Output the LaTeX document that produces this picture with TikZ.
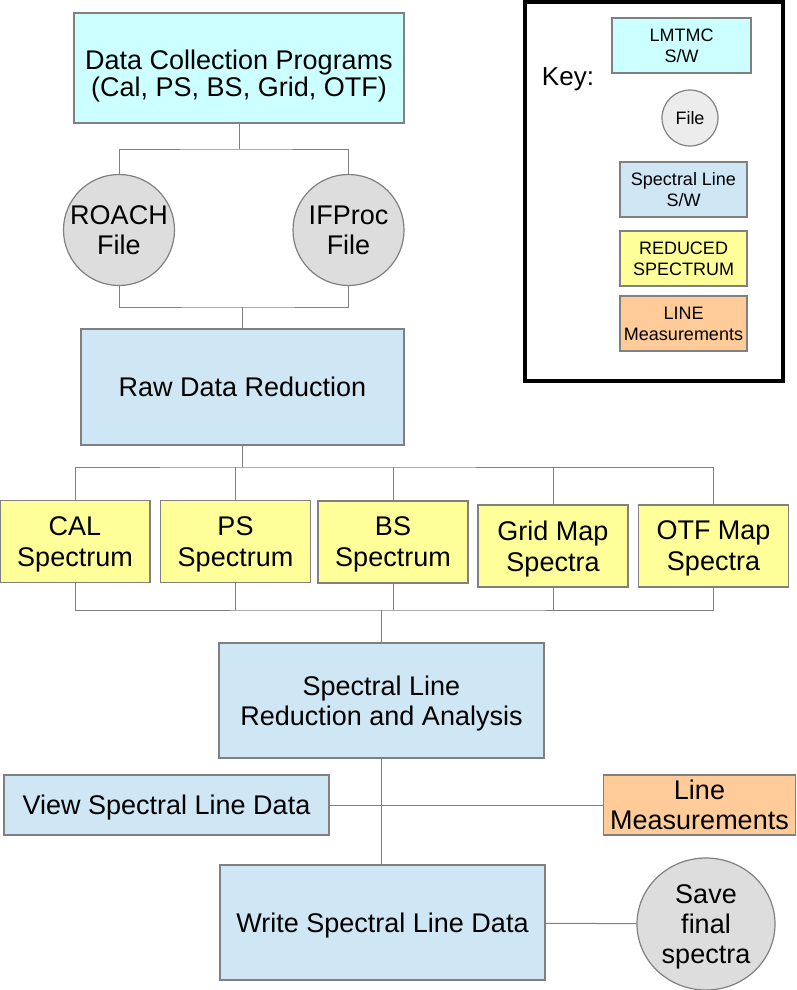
\documentclass[tikz,border=0pt]{standalone}
\usepackage{fontspec}
\setmainfont{Liberation Sans}
\usetikzlibrary{shapes.geometric}
\definecolor{swcyan}{HTML}{CCFFFF}
\definecolor{slblue}{HTML}{CFE7F5}
\definecolor{redyellow}{HTML}{FFFF99}
\definecolor{measorange}{HTML}{FFCC99}
\definecolor{filegray}{HTML}{DDDDDD}
\definecolor{edgegray}{HTML}{808080}

\begin{document}
\begin{tikzpicture}[x=1pt,y=-1pt,
  box/.style={draw=edgegray,line width=1.2pt,inner sep=0pt,align=center,text depth=0pt,font=\fontsize{27}{31}\selectfont},
  filenode/.style={box,circle,fill=filegray,font=\fontsize{27}{30}\selectfont},
  keyitem/.style={box,font=\fontsize{18}{21}\selectfont,minimum width=127pt,minimum height=55pt},
  link/.style={draw=edgegray,line width=1pt}]
  \useasboundingbox (0,0) rectangle (796,990);
  \node[box,fill=swcyan,minimum width=330pt,minimum height=110pt,font=\fontsize{27}{25}\selectfont] (dcp) at (239,68) {\rule{0pt}{30pt}Data Collection Programs\\(Cal, PS, BS, Grid, OTF)};
  \node[filenode,minimum size=111pt] (roach) at (119,230) {ROACH\\File};
  \node[filenode,minimum size=111pt] (ifproc) at (348.5,230) {IFProc\\File};
  \node[box,fill=slblue,minimum width=323pt,minimum height=116pt] (raw) at (242.5,387) {Raw Data Reduction};
  \foreach \n/\x/\y/\t in {cal/75/541.5/{CAL\\Spectrum},ps/235.5/541.5/{PS\\Spectrum},bs/393/542/{BS\\Spectrum},
      grid/553/546/{Grid Map\\Spectra},otf/713.5/546/{OTF Map\\Spectra}}
    \node[box,fill=redyellow,minimum width=150pt,minimum height=82pt] (\n) at (\x,\y) {\t};
  \node[box,fill=slblue,minimum width=325pt,minimum height=115pt,font=\fontsize{27}{30}\selectfont] (slra) at (381.5,700.5) {Spectral Line\\Reduction and Analysis};
  \node[box,fill=slblue,minimum width=325pt,minimum height=60pt] (view) at (166.5,805) {View Spectral Line Data};
  \node[box,fill=measorange,minimum width=192pt,minimum height=60pt,font=\fontsize{27}{30}\selectfont] (linem) at (699.5,805) {Line\\Measurements};
  \node[box,fill=slblue,minimum width=325pt,minimum height=115pt] (write) at (382.5,922.5) {Write Spectral Line Data};
  \node[filenode,ellipse,minimum width=138pt,minimum height=132pt] (save) at (706,924) {Save\\final\\spectra};

  \coordinate (j1) at (239,149);
  \coordinate (j2) at (242.5,307);
  \coordinate (j3) at (242.5,467);
  \coordinate (j4) at (381.5,610);
  \draw[link] (dcp) -- (j1);
  \draw[link] (roach) |- (j1) -| (ifproc);
  \draw[link] (roach) |- (j2) -| (ifproc);
  \draw[link] (j2) -- (raw);
  \draw[link] (raw) -- (j3);
  \draw[link] (cal) |- (j3) -| (otf);
  \draw[link] (cal) |- (j4) -| (otf);
  \foreach \n in {ps,bs,grid}
    \draw[link] (\n) -- (\n |- j3) (\n) -- (\n |- j4);
  \draw[link] (j4) -- (slra);
  \draw[link] (slra.south) -- (slra.south |- write.north);
  \draw[link] (view) -- (linem);
  \draw[link] (write) -- (save);

  \draw[line width=4pt] (525,2) rectangle (783,381);
  \node[font=\fontsize{26}{30}\selectfont] (keylabel) at (568,79) {Key:};
  \node[keyitem,fill=swcyan,minimum width=139pt] (keysw) at (681.5,45.5) {LMTMC\\S/W};
  \node[box,circle,fill=filegray!55,minimum size=56pt,font=\fontsize{18}{21}\selectfont] (keyfile) at (690,118) {File};
  \node[keyitem,fill=slblue] (keysl) at (683.5,189.5) {Spectral Line\\S/W};
  \node[keyitem,fill=redyellow] (keyred) at (683.5,258.5) {REDUCED\\SPECTRUM};
  \node[keyitem,fill=measorange] (keyline) at (683.5,323.5) {LINE\\Measurements};
\end{tikzpicture}
\end{document}
